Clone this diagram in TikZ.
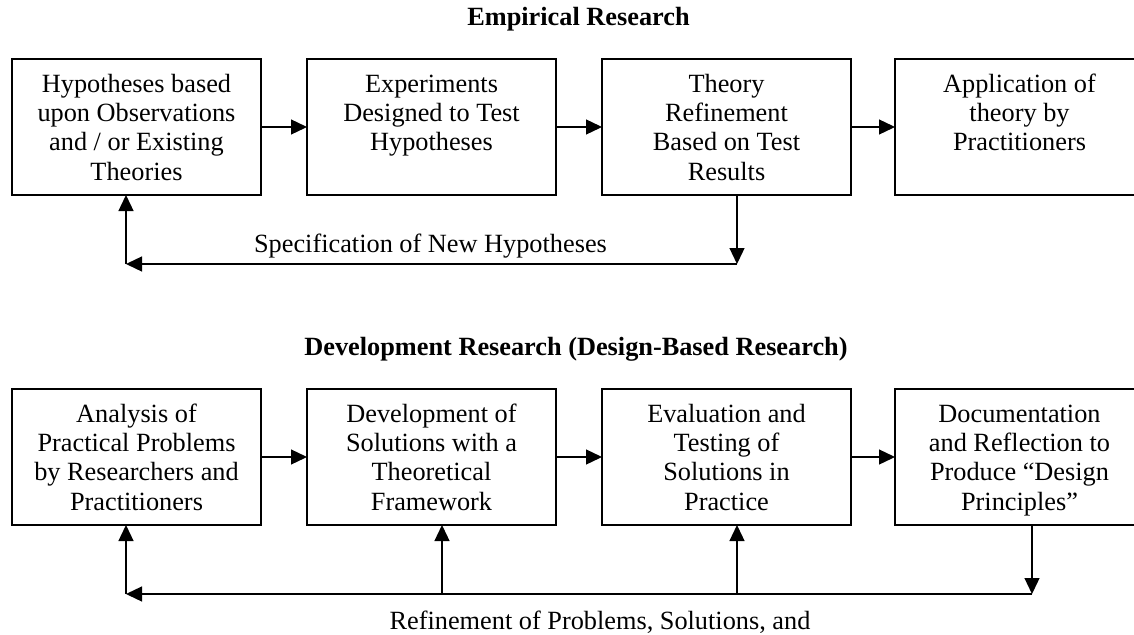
\documentclass[tikz,border=0pt]{standalone}
\usepackage{fontspec}
\setmainfont{Liberation Serif}
\usetikzlibrary{arrows.meta}
\newcommand{\boxtext}[1]{\parbox[c][136pt][t]{249pt}{\centering\rule{0pt}{33pt}#1}}
\begin{document}
\begin{tikzpicture}[x=1pt,y=-1pt,
  stage/.style={draw, line width=1.8pt, inner sep=0pt, outer sep=0pt,
    font=\fontsize{26.3}{29.4}\selectfont},
  flow/.style={line width=1.3pt, -{Triangle[length=16pt,width=15pt]}},
  ttl/.style={font=\fontsize{26.3}{30}\selectfont\bfseries, anchor=base, inner sep=0pt},
  lbl/.style={font=\fontsize{26.3}{30}\selectfont, anchor=base, inner sep=0pt}]
\path[use as bounding box, clip] (0,0) rectangle (1134,634);

% titles
\node[ttl] (t1) at (578.5,26) {Empirical Research};
\node[ttl] (t2) at (576,355) {Development Research (Design-Based Research)};

% top row
\node[stage] (a1) at (136.5,127) {\boxtext{Hypotheses based\\upon Observations\\and / or Existing\\Theories}};
\node[stage] (a2) at (431.5,127) {\boxtext{Experiments\\Designed to Test\\Hypotheses}};
\node[stage] (a3) at (726.5,127) {\boxtext{Theory\\Refinement\\Based on Test\\Results}};
\node[stage] (a4) at (1019.5,127) {\boxtext{Application of\\theory by\\Practitioners}};

\draw[flow] (a1.east) -- (a2.west);
\draw[flow] (a2.east) -- (a3.west);
\draw[flow] (a3.east) -- (a4.west);

\coordinate (f1) at (737,264);
\coordinate (f2) at (126,264);
\draw[flow] (a3.south -| f1) -- (f1);
\draw[flow] (f1) -- (f2);
\draw[flow] (f2) -- (a1.south -| f2);
\node[lbl] (spec) at (430.5,252) {Specification of New Hypotheses};

% bottom row
\node[stage] (b1) at (136.5,457) {\boxtext{Analysis of\\Practical Problems\\by Researchers and\\Practitioners}};
\node[stage] (b2) at (431.5,457) {\boxtext{Development of\\Solutions with a\\Theoretical\\Framework}};
\node[stage] (b3) at (726.5,457) {\boxtext{Evaluation and\\Testing of\\Solutions in\\Practice}};
\node[stage] (b4) at (1019.5,457) {\boxtext{Documentation\\and Reflection to\\Produce “Design\\Principles”}};

\draw[flow] (b1.east) -- (b2.west);
\draw[flow] (b2.east) -- (b3.west);
\draw[flow] (b3.east) -- (b4.west);

\coordinate (g4) at (1032,594);
\coordinate (g1) at (126,594);
\coordinate (g2) at (442,594);
\coordinate (g3) at (737,594);
\draw[flow] (b4.south -| g4) -- (g4);
\draw[flow] (g4) -- (g1);
\draw[flow] (g1) -- (b1.south -| g1);
\draw[flow] (g2) -- (b2.south -| g2);
\draw[flow] (g3) -- (b3.south -| g3);
\node[lbl] (refine) at (600,629) {Refinement of Problems, Solutions, and};
\end{tikzpicture}
\end{document}
